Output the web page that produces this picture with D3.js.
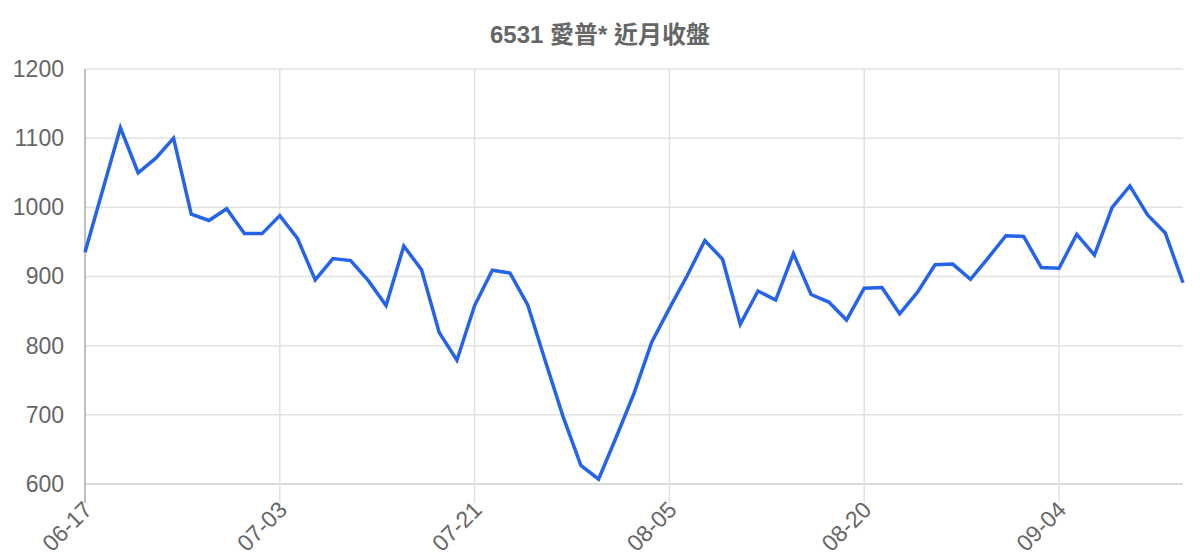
<!DOCTYPE html>
<html>
<head>
<meta charset="utf-8">
<script src="https://cdn.jsdelivr.net/npm/d3@7"></script>
<style>
  body { margin: 0; background: #fff; }
  text { font-family: "Liberation Sans", Arial, "Noto Sans CJK TC", sans-serif; }
</style>
</head>
<body>
<div id="chart"></div>
<script>
// trading dates (MM-DD)
var dates = [
  "06-17","06-18","06-19","06-20","06-23","06-24","06-25","06-26","06-27","06-30",
  "07-02","07-03","07-04","07-08","07-09","07-10","07-11","07-14","07-15","07-16",
  "07-17","07-18","07-21","07-22","07-23","07-24","07-25","07-28","07-29","07-30",
  "07-31","08-01","08-04","08-05","08-06","08-07","08-08","08-11","08-12","08-13",
  "08-14","08-15","08-18","08-19","08-20","08-21","08-22","08-25","08-26","08-27",
  "08-28","08-29","09-01","09-02","09-03","09-04","09-05","09-08","09-09","09-10",
  "09-11","09-12","09-15"
];

// closing prices
var closes = [
  935, 1025, 1115, 1050, 1071, 1100, 990, 981, 998, 962,
  962, 988, 955, 895, 926, 923, 894, 858, 944, 910,
  819, 779, 858, 909, 905, 859, 777, 697, 627, 607,
  668, 731, 805, 854, 901, 952, 925, 831, 879, 866,
  933, 874, 863, 837, 883, 884, 846, 877, 917, 918,
  896, 927, 959, 958, 913, 912, 961, 931, 1000, 1031,
  989, 963, 891
];

var shownLabels = ["06-17","07-03","07-21","08-05","08-20","09-04"];
var yTicks = [600, 700, 800, 900, 1000, 1100, 1200];
var title = "6531 愛普* 近月收盤";

var W = 1200, H = 560;
var margin = {top: 69, right: 17, bottom: 76, left: 85};
var width = W - margin.left - margin.right,
    height = H - margin.top - margin.bottom;

var svg = d3.select("#chart").append("svg")
    .attr("width", W)
    .attr("height", H);

svg.append("text")
    .attr("x", W / 2)
    .attr("y", 43)
    .attr("text-anchor", "middle")
    .style("font-size", "24px")
    .style("font-weight", "bold")
    .style("fill", "#666")
    .text(title);

var g = svg.append("g")
    .attr("transform", "translate(" + margin.left + "," + margin.top + ")");

var x = d3.scalePoint()
    .domain(dates)
    .range([0, width]);

var y = d3.scaleLinear()
    .domain([600, 1200])
    .range([height, 0]);

// horizontal grid
g.append("g")
  .selectAll("line")
  .data(yTicks)
  .enter()
  .append("line")
    .attr("x1", 0)
    .attr("x2", width)
    .attr("y1", function(d) { return y(d); })
    .attr("y2", function(d) { return y(d); })
    .style("stroke", function(d) { return d == 600 ? "#cfcfcf" : "#e2e2e2"; })
    .style("stroke-width", 1.5);

// vertical grid + ticks
g.append("g")
  .selectAll("line")
  .data(shownLabels)
  .enter()
  .append("line")
    .attr("x1", function(d) { return x(d); })
    .attr("x2", function(d) { return x(d); })
    .attr("y1", 0)
    .attr("y2", height + 19)
    .style("stroke", function(d, i) { return i == 0 ? "#aaa" : "#e2e2e2"; })
    .style("stroke-width", 1.5);

// y axis labels
var yAxis = g.append("g")
    .call(d3.axisLeft(y).tickValues(yTicks).tickSize(0).tickPadding(21).tickFormat(d3.format("d")));
yAxis.select(".domain").remove();
yAxis.selectAll("text")
    .style("font-size", "23px")
    .style("fill", "#666");

// x axis labels
var xAxis = g.append("g")
    .attr("transform", "translate(0," + height + ")")
    .call(d3.axisBottom(x).tickValues(shownLabels).tickSize(0));
xAxis.select(".domain").remove();
xAxis.selectAll("text")
    .style("font-size", "23px")
    .style("fill", "#666")
    .style("text-anchor", "end")
    .attr("dx", "0")
    .attr("dy", "0")
    .attr("transform", "translate(6,25) rotate(-45)");

// price line
var line = d3.line()
    .x(function(d, i) { return x(dates[i]); })
    .y(function(d) { return y(d); });

g.append("path")
    .datum(closes)
    .attr("d", line)
    .style("fill", "none")
    .style("stroke", "#2563eb")
    .style("stroke-width", 3.5)
    .style("stroke-linejoin", "miter");
</script>
</body>
</html>
